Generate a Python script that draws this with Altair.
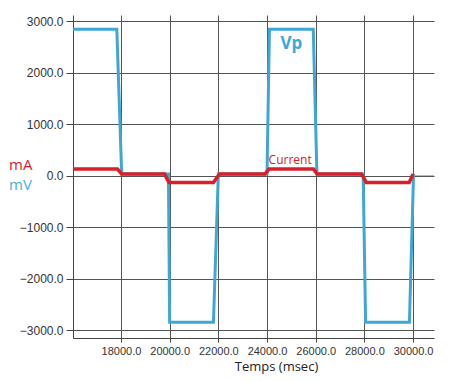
import altair as alt
import pandas as pd

# Voltage (mV) trace
v_time = [16030, 17830, 18030, 19950, 20000, 21800, 22000, 24000, 24100, 25900, 26050, 27950, 28050, 29850, 30020]
v_vals = [2840, 2840, 30, 30, -2850, -2850, 30, 30, 2840, 2840, 30, 30, -2850, -2850, 30]

# Current (mA) trace
c_time = [16030, 17860, 18030, 19790, 19970, 21800, 22050, 23920, 24080, 25910, 26060, 27880, 28080, 29840, 30000]
c_vals = [125, 125, 30, 30, -135, -135, 30, 30, 125, 125, 30, 30, -135, -135, 30]

x_ticks = [18000, 20000, 22000, 24000, 26000, 28000, 30000]
y_ticks = [-3000, -2000, -1000, 0, 1000, 2000, 3000]
x_domain = [16030, 30860]
y_domain = [-3155, 3117]

tail_t = [30000]
tail_t2 = [30860]
tail_v = [0]

df_v = pd.DataFrame({"t": v_time, "val": v_vals})
df_c = pd.DataFrame({"t": c_time, "val": c_vals})
df_tail = pd.DataFrame({"t": tail_t, "t2": tail_t2, "val": tail_v})
df_vp = pd.DataFrame({"t": [25000], "val": [2560], "label": ["Vp"]})
df_cur = pd.DataFrame({"t": [24950], "val": [310], "label": ["Current"]})

xs = alt.Scale(domain=x_domain, nice=False, zero=False)
ys = alt.Scale(domain=y_domain, nice=False, zero=False)

x_axis = alt.Axis(values=x_ticks, format=".1f", title="Temps (msec)",
                  labelFontSize=11, tickSize=4, labelPadding=3,
                  titleFont="Open Sans", titleFontSize=13, titleFontWeight="normal",
                  titleColor="#222", titleX=203, titleY=28, titleBaseline="middle")
y_axis = alt.Axis(values=y_ticks, format=".1f", title=None,
                  labelFontSize=12, tickSize=7, labelPadding=3)

X = alt.X("t:Q", scale=xs, axis=x_axis)
Y = alt.Y("val:Q", scale=ys, axis=y_axis)

volt = alt.Chart(df_v).mark_line(color="#3FA7D6", strokeWidth=3).encode(x=X, y=Y)
curr = alt.Chart(df_c).mark_line(color="#D7202B", strokeWidth=3.5).encode(x=X, y=Y)
tail = alt.Chart(df_tail).mark_rule(color="#E8A0B4", strokeWidth=1).encode(
    x=X, x2="t2:Q", y=Y,
)
vp = alt.Chart(df_vp).mark_text(color="#3FA7D6", font="Open Sans", fontSize=17,
                                fontWeight="bold", baseline="middle").encode(
    x=X, y=Y, text="label:N",
)
cur = alt.Chart(df_cur).mark_text(color="#D7202B", font="Open Sans", fontSize=12,
                                  baseline="middle").encode(
    x=X, y=Y, text="label:N",
)
ma = alt.Chart(pd.DataFrame({"label": ["mA"]})).mark_text(
    color="#D7202B", font="Open Sans", fontSize=15, align="left", baseline="middle"
).encode(x=alt.value(-64), y=alt.value(150), text="label:N")
mv = alt.Chart(pd.DataFrame({"label": ["mV"]})).mark_text(
    color="#45B0E0", font="Open Sans", fontSize=15, align="left", baseline="middle"
).encode(x=alt.value(-64), y=alt.value(170), text="label:N")

chart = alt.layer(volt, tail, curr, vp, cur, ma, mv).properties(
    width=361, height=323,
    autosize=alt.AutoSizeParams(type="none"),
    padding={"left": 65, "top": 7, "right": 13, "bottom": 40},
).configure_axis(
    gridColor="#555555", gridWidth=1, gridOpacity=1,
    domainColor="#444444", tickColor="#444444",
    labelColor="#333333", labelFont="Liberation Sans",
).configure_view(stroke=None)

chart.save("out.html", embed_options={"renderer": "svg", "actions": False})
